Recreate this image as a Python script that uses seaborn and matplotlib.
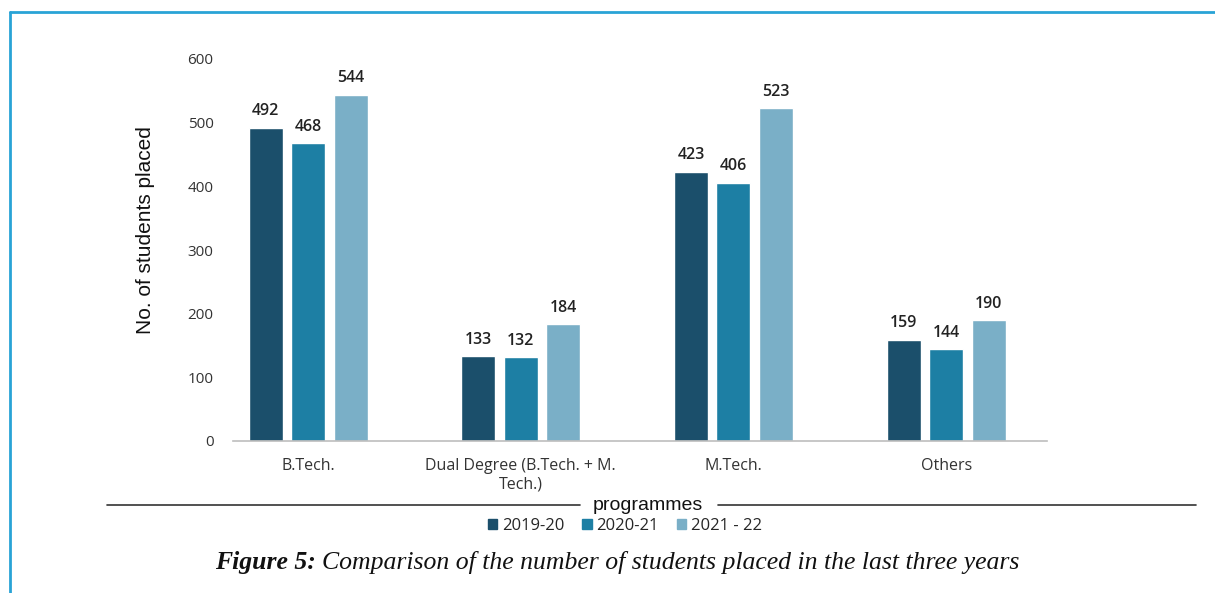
import pandas as pd
import matplotlib
matplotlib.use("Agg")
import matplotlib.pyplot as plt
import matplotlib.lines as mlines
import matplotlib.patches as mpatches
import seaborn as sns

# Data
programmes = ["B.Tech.", "Dual Degree (B.Tech. + M.\nTech.)", "M.Tech.", "Others"]
years = ["2019-20", "2020-21", "2021 - 22"]
placed_2019 = [492, 133, 423, 159]
placed_2020 = [468, 132, 406, 144]
placed_2021 = [544, 184, 523, 190]

colors = ["#1b4f6b", "#1d7fa4", "#7aafc7"]

df = pd.DataFrame({
    "programme": programmes * 3,
    "year": [years[0]] * 4 + [years[1]] * 4 + [years[2]] * 4,
    "placed": placed_2019 + placed_2020 + placed_2021,
})

sns.set_theme(style="white")
plt.rcParams["font.family"] = ["Open Sans", "DejaVu Sans"]

W, H = 1215, 593
fig = plt.figure(figsize=(W / 100, H / 100), dpi=100)
ax = fig.add_axes([233 / W, 1 - 441 / H, (1047 - 233) / W, (441 - 59) / H])

sns.barplot(data=df, x="programme", y="placed", hue="year", palette=colors,
            width=0.6, gap=0.2, ax=ax, legend=False, saturation=1)

for cont in ax.containers:
    ax.bar_label(cont, fontsize=11.5, color="#222222", padding=6, fontweight="semibold")

ax.set_ylim(0, 600)
ax.set_xlim(-0.353, 3.474)
ax.set_yticks(range(0, 601, 100))
ax.tick_params(axis="y", labelsize=11, colors="#333333", pad=14, length=0)
ax.tick_params(axis="x", labelsize=11.5, colors="#333333", pad=12, length=0)
for s in ["left", "right", "top"]:
    ax.spines[s].set_visible(False)
ax.spines["bottom"].set_color("#bdbdbd")
ax.spines["bottom"].set_linewidth(1.2)
ax.set_xlabel("")
ax.set_ylabel("No. of students placed", fontsize=15, family="Liberation Sans", color="#111111")
ax.yaxis.set_label_coords((155 - 233) / 814, (441 - 230) / 382)

# axis title with rules either side
fig.add_artist(mlines.Line2D([107 / W, 580 / W], [1 - 505 / H] * 2, color="#333333", lw=1.2))
fig.add_artist(mlines.Line2D([718 / W, 1196 / W], [1 - 505 / H] * 2, color="#333333", lw=1.2))
fig.text(648 / W, 1 - 505 / H, "programmes", ha="center", va="center",
         fontsize=14, family="Liberation Sans", color="#111111")

handles = [mpatches.Patch(color=c, label=y) for c, y in zip(colors, years)]
fig.legend(handles=handles, loc="center", bbox_to_anchor=(625 / W, 1 - 526 / H), ncol=3,
           frameon=False, fontsize=12, handlelength=0.55, handleheight=0.55,
           handletextpad=0.3, columnspacing=1.1)

# caption
cap_y = 1 - 563 / H
t1 = fig.text(215 / W, cap_y, "Figure 5:", family="Liberation Serif", style="italic",
              fontweight="bold", fontsize=18.5, va="center", color="#111111")
fig.canvas.draw()
bb = t1.get_window_extent()
fig.text(bb.x1 / W + 6 / W, cap_y, "Comparison of the number of students placed in the last three years",
         family="Liberation Serif", style="italic", fontsize=18.5, va="center", color="#111111")

# blue frame
fig.add_artist(mlines.Line2D([10 / W, 1], [1 - 12 / H] * 2, color="#29a3d6", lw=2))
fig.add_artist(mlines.Line2D([10 / W] * 2, [1 - 12 / H, 0], color="#29a3d6", lw=2))

fig.savefig("out.png", dpi=100)
